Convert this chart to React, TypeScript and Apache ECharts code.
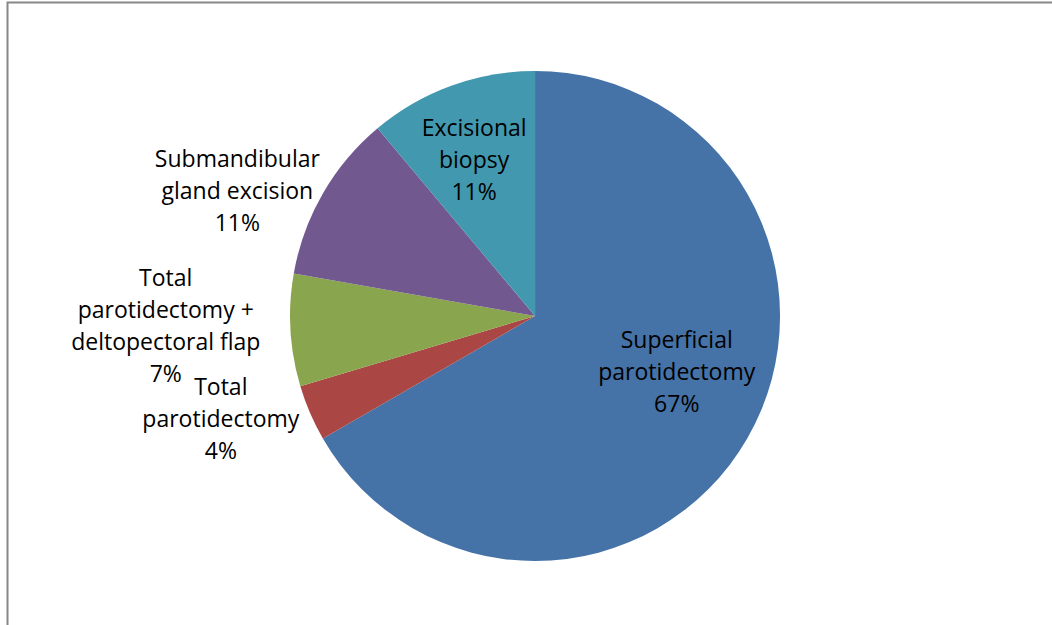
import React, { useEffect, useRef } from "react";
import * as echarts from "echarts";

const categories = [
  "Superficial\nparotidectomy",
  "Total\nparotidectomy",
  "Total\nparotidectomy +\ndeltopectoral flap",
  "Submandibular\ngland excision",
  "Excisional\nbiopsy",
];
const counts = [18, 1, 2, 3, 3];
const colors = ["#4572A7", "#AA4643", "#89A54E", "#71588F", "#4198AF"];
// label nudges relative to ECharts' inside-label anchor
const labelShift = [
  [33, -8],
  [-199, 52],
  [-244, 2],
  [-189, -63],
  [-18, -39],
];

export default function App() {
  const ref = useRef<HTMLDivElement>(null);
  useEffect(() => {
    if (!ref.current) return;
    const chart = echarts.init(ref.current, null, { renderer: "svg" });
    chart.setOption({
      animation: false,
      backgroundColor: "#ffffff",
      graphic: [
        {
          type: "rect",
          shape: { x: 7.5, y: 2.5, width: 1200, height: 800 },
          style: { fill: "none", stroke: "#878787", lineWidth: 2 },
          silent: true,
        },
      ],
      series: [
        {
          type: "pie",
          center: ["50.86%", "50.56%"],
          radius: 245,
          startAngle: 90,
          clockwise: true,
          avoidLabelOverlap: false,
          percentPrecision: 0,
          label: {
            show: true,
            position: "inside",
            formatter: "{b}\n{d}%",
            fontFamily: "Open Sans",
            fontSize: 23,
            lineHeight: 32,
            color: "#000000",
            align: "center",
          },
          labelLine: { show: false },
          labelLayout: (p: any) => ({
            dx: labelShift[p.dataIndex][0],
            dy: labelShift[p.dataIndex][1],
          }),
          itemStyle: { borderWidth: 0 },
          emphasis: { disabled: true },
          data: categories.map((name, i) => ({
            name,
            value: counts[i],
            itemStyle: { color: colors[i] },
          })),
        },
      ],
    });
    return () => chart.dispose();
  }, []);
  return (
    <div
      ref={ref}
      style={{ position: "fixed", left: 0, top: 0, width: 1052, height: 625 }}
    />
  );
}
